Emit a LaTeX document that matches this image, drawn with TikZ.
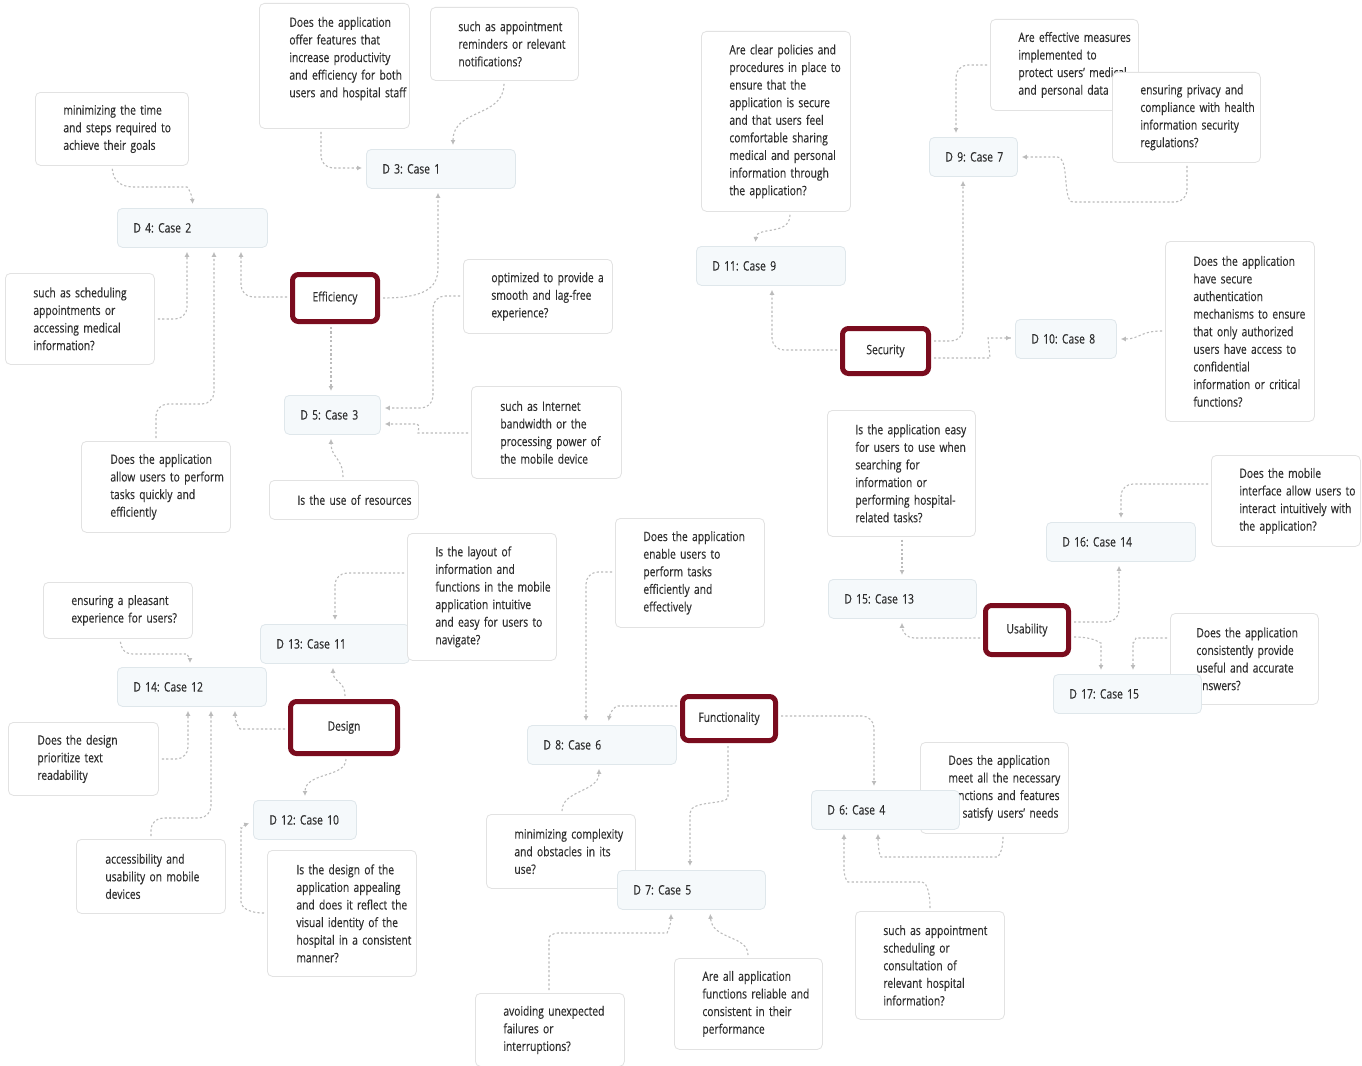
\documentclass[tikz,border=0pt]{standalone}
\usepackage{fontspec}
\setmainfont[FakeStretch=0.79,FakeBold=0.25]{Open Sans}
\usetikzlibrary{arrows.meta,calc,backgrounds}
\definecolor{catred}{HTML}{7A0C1E}
\definecolor{qline}{HTML}{E2E2E2}
\definecolor{dline}{HTML}{DFE7EB}
\definecolor{dfill}{HTML}{F5F9FB}
\definecolor{arrc}{HTML}{BBBBBB}
\definecolor{txt}{HTML}{2E2E2E}
\tikzset{
  base/.style={font=\frenchspacing\fontsize{13}{17.6}\selectfont, text=txt},
  qbox/.style={base, draw=qline, fill=white, line width=0.8pt, rounded corners=5pt, anchor=north west, align=left, inner xsep=0pt, inner ysep=0pt},
  dbox/.style={base, draw=dline, fill=dfill, line width=0.8pt, rounded corners=5pt, anchor=north west, align=left, inner xsep=0pt, inner ysep=0pt, minimum height=39pt},
  cat/.style={base, draw=catred, fill=white, line width=5pt, rounded corners=6pt, inner sep=0pt},
  ar/.style={draw=arrc, line width=1.1pt, dash pattern=on 2.2pt off 2.2pt, -{Latex[length=5pt,width=5pt]}, rounded corners=12pt, shorten >=4pt, shorten <=3pt}
}
\newcommand\qn[7]{\node[qbox, text width=#4pt, minimum height=#5pt] (#1) at (#2,#3) {\leftskip=#6pt\rightskip=-30pt plus 1fil\relax #7\par};}
\newcommand\dn[5]{\node[dbox, text width=#4pt] (#1) at (#2,#3) {\leftskip=16pt\rightskip=-30pt plus 1fil\relax #5\par};}
\begin{document}
\begin{tikzpicture}[x=1pt,y=-1pt]
\useasboundingbox (0,0) rectangle (1362,1065);
% Efficiency
\qn{q1}{259}{3}{150}{125}{30}{Does the application\\offer features that\\increase productivity\\and efficiency for both\\users and hospital staff\\\mbox{}}
\qn{q2}{430}{7}{148}{73}{28}{such as appointment\\reminders or relevant\\notifications?}
\dn{d3}{366}{149}{149}{D 3: Case 1}
\qn{qmin}{35}{92}{153}{73}{28}{minimizing the time\\and steps required to\\achieve their goals}
\dn{d4}{117}{208}{150}{D 4: Case 2}
\qn{qsched}{5}{273}{149}{91}{28}{such as scheduling\\appointments or\\accessing medical\\information?}
\node[cat, minimum width=85pt, minimum height=47pt] (eff) at (335,298) {Efficiency};
\qn{qopt}{463}{259}{149}{74}{28}{optimized to provide a\\smooth and lag-free\\experience?}
\dn{d5}{284}{395}{96}{D 5: Case 3}
\qn{qnet}{471}{386}{150}{92}{29}{such as Internet\\bandwidth or the\\processing power of\\the mobile device}
\qn{qres}{269}{480}{149}{39}{28}{Is the use of resources}
\qn{qallow}{81}{441}{149}{91}{29}{Does the application\\allow users to perform\\tasks quickly and\\efficiently}
% Security
\qn{qpol}{701}{31}{149}{180}{28}{Are clear policies and\\procedures in place to\\ensure that the\\application is secure\\and that users feel\\comfortable sharing\\medical and personal\\information through\\the application?}
\dn{d11}{696}{246}{149}{D 11: Case 9}
\qn{qeff}{990}{19}{148}{91}{28}{Are effective measures\\implemented to\\protect users' medical\\and personal data}
\qn{qpriv}{1112}{72}{148}{90}{28}{ensuring privacy and\\compliance with health\\information security\\regulations?}
\dn{d9}{929}{137}{88}{D 9: Case 7}
\node[cat, minimum width=86pt, minimum height=45pt] (sec) at (885.5,351) {Security};
\dn{d10}{1015}{319}{101}{D 10: Case 8}
\qn{qauth}{1165}{241}{149}{180}{28}{Does the application\\have secure\\authentication\\mechanisms to ensure\\that only authorized\\users have access to\\confidential\\information or critical\\functions?}
% Usability
\qn{qeasy}{827}{410}{148}{126}{28}{Is the application easy\\for users to use when\\searching for\\information or\\performing hospital-\\related tasks?}
\dn{d15}{828}{579}{148}{D 15: Case 13}
\node[cat, minimum width=83pt, minimum height=49pt] (usa) at (1027,630) {Usability};
\dn{d16}{1046}{522}{149}{D 16: Case 14}
\qn{qmob}{1211}{455}{149}{91}{28}{Does the mobile\\interface allow users to\\interact intuitively with\\the application?}
\qn{qcons}{1170}{613}{148}{91}{26}{Does the application\\consistently provide\\useful and accurate\\answers?}
\dn{d17}{1053}{674}{148}{D 17: Case 15}
% Functionality
\qn{qenable}{615}{518}{149}{109}{28}{Does the application\\enable users to\\perform tasks\\efficiently and\\effectively}
\node[cat, minimum width=93pt, minimum height=44pt] (fun) at (729,718.5) {Functionality};
\dn{d8}{527}{725}{149}{D 8: Case 6}
\qn{qcomp}{486}{814}{149}{74}{28}{minimizing complexity\\and obstacles in its\\use?}
\dn{d7}{617}{870}{148}{D 7: Case 5}
\qn{qfail}{475}{993}{149}{73}{28}{avoiding unexpected\\failures or\\interruptions?}
\qn{qrel}{674}{958}{148}{91}{28}{Are all application\\functions reliable and\\consistent in their\\performance}
\qn{qmeet}{920}{742}{148}{91}{28}{Does the application\\meet all the necessary\\functions and features\\to satisfy users' needs}
\dn{d6}{811}{790}{148}{D 6: Case 4}
\qn{qappt}{855}{911}{149}{108}{28}{such as appointment\\scheduling or\\consultation of\\relevant hospital\\information?}
% Design
\dn{d13}{260}{624}{149}{D 13: Case 11}
\qn{qlay}{407}{533}{149}{127}{28}{Is the layout of\\information and\\functions in the mobile\\application intuitive\\and easy for users to\\navigate?}
\qn{qpleas}{43}{582}{149}{56}{28}{ensuring a pleasant\\experience for users?}
\dn{d14}{117}{667}{149}{D 14: Case 12}
\node[cat, minimum width=107pt, minimum height=52pt] (des) at (344,727.5) {Design\hspace{28pt}};
\qn{qprio}{8}{722}{150}{73}{29}{Does the design\\prioritize text\\readability}
\dn{d12}{253}{800}{103}{D 12: Case 10}
\qn{qacc}{76}{839}{149}{74}{29}{accessibility and\\usability on mobile\\devices}
\qn{qapp}{267}{850}{149}{126}{29}{Is the design of the\\application appealing\\and does it reflect the\\visual identity of the\\hospital in a consistent\\manner?}

\begin{scope}[on background layer]
\fill[white] (0,0) rectangle (1362,1065);
% Efficiency
\draw[ar] (q1.south -| 321,0) -- (321,168) -- (d3.west |- 0,168);
\draw[ar] (q2.south -| 504,0) .. controls (504,118) and (453,108) .. (d3.north -| 453,0);
\draw[ar] (eff.east |- 0,298) .. controls (430,298) and (438,285) .. (438,255) -- (d3.south -| 438,0);
\draw[ar] (eff.west |- 0,297) -- (241,297) -- (d4.south -| 241,0);
\draw[ar] (qmin.south -| 112,0) .. controls (114,188) and (130,187) .. (150,187) -- (175,187) .. controls (188,187) and (192,195) .. (d4.north -| 193,0);
\draw[ar] (qsched.east |- 0,319) -- (187,319) -- (d4.south -| 187,0);
\draw[ar] (qallow.north -| 156,0) -- (156,404) -- (214,404) -- (d4.south -| 214,0);
\draw[ar] (eff.south -| 331,0) -- (d5.north -| 331,0);
\draw[ar] (qopt.west |- 0,296) -- (433,296) -- (433,408) -- (d5.east |- 0,408);
\draw[ar] (qnet.west |- 0,433) -- (430,433) .. controls (418,433) and (420,424) .. (405,424) -- (d5.east |- 0,424);
\draw[ar] (qres.north -| 343,0) .. controls (343,458) and (331,458) .. (d5.south -| 331,0);
% Security
\draw[ar] (qpol.south -| 790,0) .. controls (790,236) and (757,226) .. (d11.north -| 755,0);
\draw[ar] (sec.west |- 0,350) -- (772,350) -- (d11.south -| 772,0);
\draw[ar] (sec.east |- 0,341) -- (963,341) -- (d9.south -| 963,0);
\draw[ar] (qeff.west |- 0,65) -- (956,65) -- (d9.north -| 956,0);
\draw[ar] (qpriv.south -| 1187,0) -- (1187,202) -- (1085,202) .. controls (1062,202) and (1070,157) .. (1045,157) -- (d9.east |- 0,157);
\draw[ar] (sec.east |- 0,358) -- (978,358) .. controls (990,358) and (988,338) .. (1000,338) -- (d10.west |- 0,338);
\draw[ar] (qauth.west |- 0,331) .. controls (1140,331) and (1140,339) .. (d10.east |- 0,339);
% Usability
\draw[ar] (qeasy.south -| 902,0) -- (d15.north -| 902,0);
\draw[ar] (usa.west |- 0,638) -- (902,638) -- (d15.south -| 902,0);
\draw[ar] (usa.east |- 0,622) -- (1119,622) -- (d16.south -| 1119,0);
\draw[ar] (qmob.west |- 0,484) -- (1121,484) -- (d16.north -| 1121,0);
\draw[ar] (usa.east |- 0,637) .. controls (1098,637) and (1101,645) .. (1101,655) -- (d17.north -| 1101,0);
\draw[ar] (qcons.west |- 0,638) -- (1148,638) .. controls (1136,638) and (1133,645) .. (1133,655) -- (d17.north -| 1133,0);
% Functionality
\draw[ar] (qenable.west |- 0,572) -- (586,572) -- (d8.north -| 586,0);
\draw[ar] (fun.west |- 0,706) -- (630,706) .. controls (615,706) and (610,712) .. (d8.north -| 608,0);
\draw[ar] (qcomp.north -| 562,0) .. controls (562,790) and (599,792) .. (d8.south -| 599,0);
\draw[ar] (fun.south -| 728,0) -- (728,785) .. controls (728,805) and (690,800) .. (690,825) -- (d7.north -| 690,0);
\draw[ar] (qfail.north -| 549,0) -- (549,950) .. controls (549,935) and (555,933) .. (570,933) -- (655,933) .. controls (667,933) and (671,925) .. (d7.south -| 671,0);
\draw[ar] (qrel.north -| 748,0) .. controls (748,935) and (712,940) .. (d7.south -| 710,0);
\draw[ar] (fun.east |- 0,716) -- (874,716) -- (d6.north -| 874,0);
\draw[ar] (qmeet.south -| 1003,0) .. controls (1003,852) and (998,857) .. (985,857) -- (893,857) .. controls (880,857) and (878,848) .. (d6.south -| 878,0);
\draw[ar] (qappt.north -| 930,0) .. controls (930,888) and (925,882) .. (910,882) -- (860,882) .. controls (846,882) and (844,872) .. (844,860) -- (d6.south -| 844,0);
% Design
\draw[ar] (qlay.west |- 0,573) -- (335,573) -- (d13.north -| 335,0);
\draw[ar] (des.north -| 345,0) .. controls (345,680) and (333,683) .. (d13.south -| 333,0);
\draw[ar] (qpleas.south -| 120,0) .. controls (122,654) and (130,654) .. (145,654) -- (175,654) .. controls (186,654) and (190,658) .. (d14.north -| 190,0);
\draw[ar] (des.west |- 0,729) -- (252,729) .. controls (240,729) and (235,722) .. (d14.south -| 235,0);
\draw[ar] (qprio.east |- 0,759) -- (188,759) -- (d14.south -| 188,0);
\draw[ar] (qacc.north -| 151,0) -- (151,818) -- (211,818) -- (d14.south -| 211,0);
\draw[ar] (des.south -| 346,0) .. controls (346,778) and (305,772) .. (d12.north -| 305,0);
\draw[ar] (qapp.west |- 0,913) .. controls (245,913) and (241,905) .. (241,890) -- (241,840) .. controls (241,830) and (244,825) .. (d12.west |- 0,822);
\end{scope}
\end{tikzpicture}
\end{document}
